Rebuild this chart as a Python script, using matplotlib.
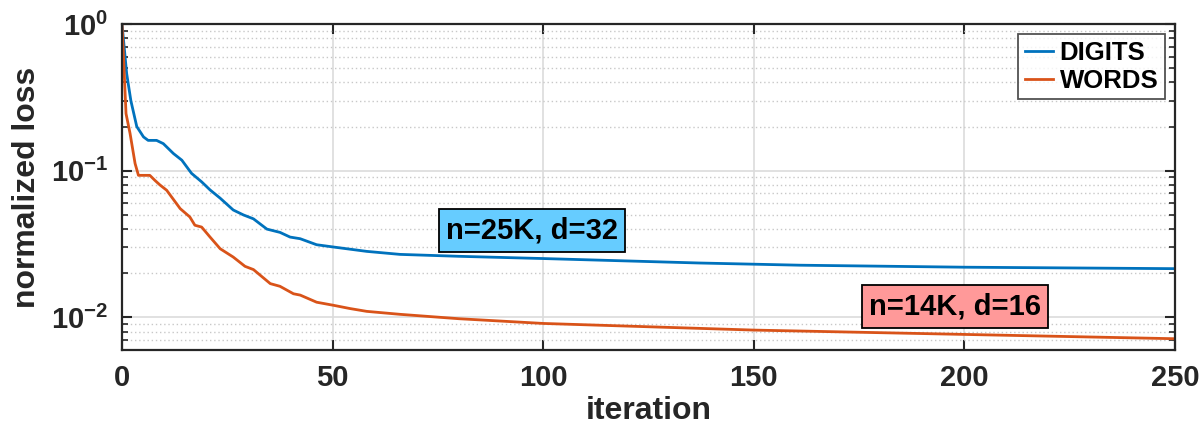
import numpy as np
import matplotlib
matplotlib.use("Agg")
from matplotlib import pyplot as plt
from matplotlib.ticker import LogLocator, NullFormatter

plt.rcParams["font.family"] = ["Liberation Sans", "DejaVu Sans"]
plt.rcParams["font.weight"] = "bold"
plt.rcParams["mathtext.fontset"] = "custom"
plt.rcParams["mathtext.rm"] = "Liberation Sans:bold"
plt.rcParams["mathtext.bf"] = "Liberation Sans:bold"

# values
digits_iter = [0, 1.1, 2.1, 3.5, 5.1, 6.2, 8.2, 9.8, 12.2, 14.2, 16.5, 18.9, 20.9,
               23.3, 26.4, 28.8, 31.2, 34.4, 37.5, 39.9, 42.3, 46.2, 50.2, 58.1,
               66, 80, 100, 137, 161, 200, 250]
digits_loss = [1.0, 0.46, 0.30, 0.20, 0.17, 0.161, 0.161, 0.153, 0.131, 0.118,
               0.096, 0.084, 0.074, 0.065, 0.054, 0.050, 0.047, 0.040, 0.038,
               0.0353, 0.0344, 0.0313, 0.0302, 0.0282, 0.0269, 0.0261, 0.0252,
               0.0235, 0.0227, 0.0220, 0.0215]

words_iter = [0, 0.95, 1.9, 3.1, 3.9, 6.6, 7.8, 9.0, 10.6, 13.8, 16.1, 17.3, 18.9,
              20.9, 23.3, 26.4, 29.2, 31.2, 35.2, 37.5, 40.7, 42.3, 46.2, 50.2,
              54.1, 58.1, 66, 80, 100, 150, 200, 250]
words_loss = [1.0, 0.245, 0.18, 0.112, 0.093, 0.093, 0.086, 0.080, 0.0736, 0.0552,
              0.0484, 0.0425, 0.0413, 0.0353, 0.0294, 0.0258, 0.0223, 0.0212,
              0.0170, 0.0163, 0.0145, 0.0142, 0.0127, 0.0121, 0.0115, 0.0110,
              0.0105, 0.0098, 0.0091, 0.0082, 0.00766, 0.00716]

x_ticks = [0, 50, 100, 150, 200, 250]
y_ticks = [1e-2, 1e-1, 1e0]
y_tick_labels = [r"$10^{-2}$", r"$10^{-1}$", r"$10^{0}$"]

dark = "#262626"

fig = plt.figure(figsize=(12.01, 4.25), dpi=100)
ax = fig.add_axes([0.1016, 0.1765, 0.8768, 0.767])

ax.plot(digits_iter, digits_loss, color="#0072BD", lw=2.0, label="DIGITS")
ax.plot(words_iter, words_loss, color="#D95319", lw=2.0, label="WORDS")

ax.set_yscale("log")
ax.set_xlim(0, 250)
ax.set_ylim(0.006, 1.0)
ax.set_xticks(x_ticks)
ax.set_xticklabels([str(t) for t in x_ticks])
ax.set_yticks(y_ticks)
ax.set_yticklabels(y_tick_labels)
ax.yaxis.set_minor_locator(LogLocator(base=10, subs=np.arange(2, 10)))
ax.yaxis.set_minor_formatter(NullFormatter())

ax.grid(True, which="major", color="#dcdcdc", lw=1.2, ls="-")
ax.grid(True, which="minor", axis="y", color="#c8c8c8", lw=1.0, ls=(0, (1, 2)))
ax.set_axisbelow(True)

ax.tick_params(which="both", direction="in", top=True, right=True, colors=dark,
               labelsize=21, pad=10)
ax.tick_params(which="major", length=7, width=1.5)
ax.tick_params(which="minor", length=4, width=1.2)
for s in ax.spines.values():
    s.set_color(dark)
    s.set_linewidth(1.6)

ax.set_xlabel("iteration", fontsize=23, fontweight="bold", color=dark, labelpad=3)
ax.set_ylabel("normalized loss", fontsize=23, fontweight="bold", color=dark, labelpad=6)

leg = ax.legend(loc="upper right", frameon=True, fancybox=False,
                handlelength=1.1, handletextpad=0.25, borderpad=0.25,
                labelspacing=0.15, borderaxespad=0.4, prop={"weight": "bold", "size": 18.5})
leg.get_frame().set_edgecolor(dark)
leg.get_frame().set_linewidth(1.3)

ax.text(97.3, 0.0392, "n=25K, d=32", fontsize=21, fontweight="bold", ha="center",
        va="center", bbox=dict(boxstyle="square,pad=0.25", fc="#66CCFF", ec="black", lw=1.3))
ax.text(197.8, 0.0119, "n=14K, d=16", fontsize=21, fontweight="bold", ha="center",
        va="center", bbox=dict(boxstyle="square,pad=0.25", fc="#FF9999", ec="black", lw=1.3))

fig.savefig("out.png", dpi=100)
